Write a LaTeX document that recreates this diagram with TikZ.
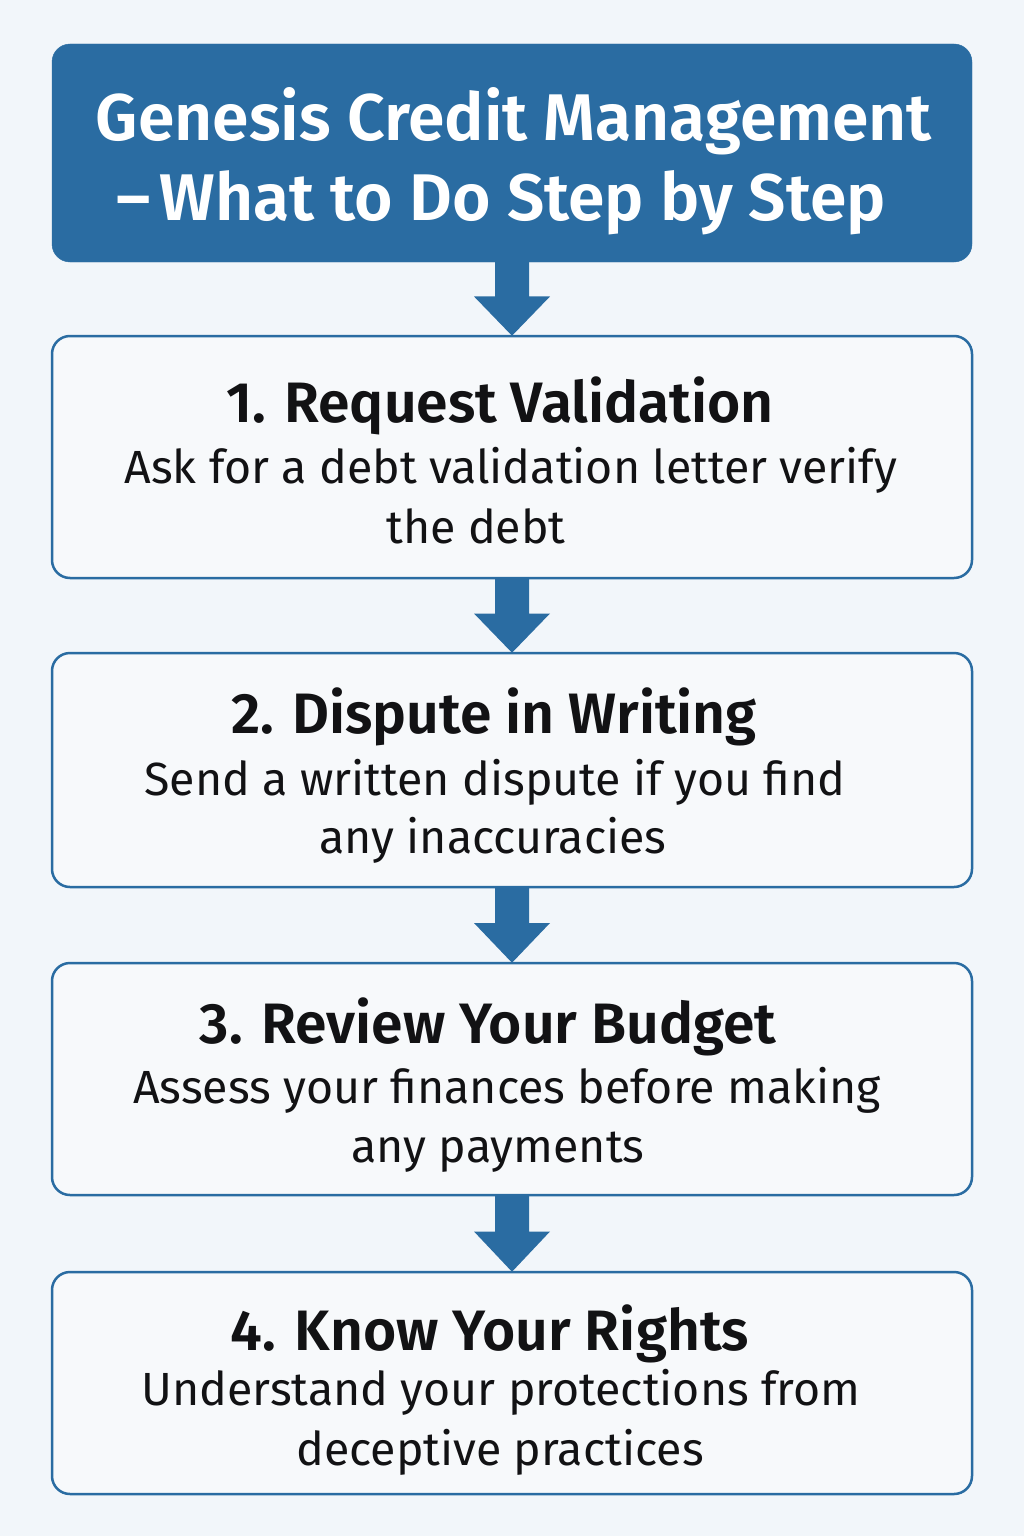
\documentclass[tikz,border=0pt]{standalone}
\usepackage{fontspec}
\setmainfont{Fira Sans}[BoldFont={Fira Sans SemiBold}]
\usetikzlibrary{calc}
\definecolor{mainblue}{RGB}{42,108,162}
\definecolor{bgcol}{RGB}{242,246,250}
\definecolor{boxfill}{RGB}{247,249,251}
\definecolor{inkcol}{RGB}{18,18,20}
\tikzset{
  titlebox/.style={fill=mainblue, draw=mainblue, rounded corners=18pt, minimum width=920pt, inner sep=0pt},
  stepbox/.style={fill=boxfill, draw=mainblue, line width=2.5pt, rounded corners=18pt, minimum width=920pt, inner sep=0pt},
  titletext/.style={anchor=base, text=white, font=\fontsize{66}{66}\selectfont\bfseries, inner sep=0pt},
  headtext/.style={anchor=base, text=inkcol, font=\fontsize{57}{57}\selectfont\bfseries, inner sep=0pt},
  bodytext/.style={anchor=base, text=inkcol, font=\fontsize{46.5}{46.5}\selectfont, inner sep=0pt},
  blockarrow/.style={fill=mainblue, draw=none}
}
\begin{document}
\begin{tikzpicture}[x=1pt,y=-1pt]
\fill[bgcol] (0,0) rectangle (1024,1536);
\useasboundingbox (0,0) rectangle (1024,1536);
% boxes
\node[titlebox, minimum height=218pt] (t) at (512,153) {};
\node[stepbox, minimum height=242pt] (b1) at (512,457) {};
\node[stepbox, minimum height=234pt] (b2) at (512,770) {};
\node[stepbox, minimum height=232pt] (b3) at (512,1079) {};
\node[stepbox, minimum height=222pt] (b4) at (512,1383) {};
% arrows
\foreach \a/\b in {t/b1, b1/b2, b2/b3, b3/b4}{
  \fill[blockarrow] ($(\a.south)+(-17,-1)$) -- ($(\a.south)+(17,-1)$)
    -- ($(\b.north)!0.5!(\a.south)+(17,-2)$) -- ($(\b.north)!0.5!(\a.south)+(38,-2)$)
    -- ($(\b.north)+(0,1)$) -- ($(\b.north)!0.5!(\a.south)+(-38,-2)$)
    -- ($(\b.north)!0.5!(\a.south)+(-17,-2)$) -- cycle;
}
% title text
\node[titletext] (t1) at (514,140) {Genesis Credit Management};
\node[titletext] (t2) at (501,220) {–\hspace{0.14em}What to Do Step by Step};
% step 1
\node[headtext] (h1) at (500,422) {1. Request Validation};
\node[bodytext] (s1a) at (511,483) {Ask for a debt validation letter verify};
\node[bodytext] (s1b) at (476,543) {the debt};
% step 2
\node[headtext] (h2) at (494,733) {2. Dispute in Writing};
\node[bodytext] (s2a) at (495,795) {Send a written dispute if you find};
\node[bodytext] (s2b) at (493,853) {any inaccuracies};
% step 3
\node[headtext] (h3) at (488,1043) {3. Review Your Budget};
\node[bodytext] (s3a) at (507,1103) {Assess your finances before making};
\node[bodytext] (s3b) at (498,1162) {any payments};
% step 4
\node[headtext] (h4) at (490,1350) {4. Know Your Rights};
\node[bodytext] (s4a) at (501,1405) {Understand your protections from};
\node[bodytext] (s4b) at (500,1465) {deceptive practices};
\end{tikzpicture}
\end{document}
